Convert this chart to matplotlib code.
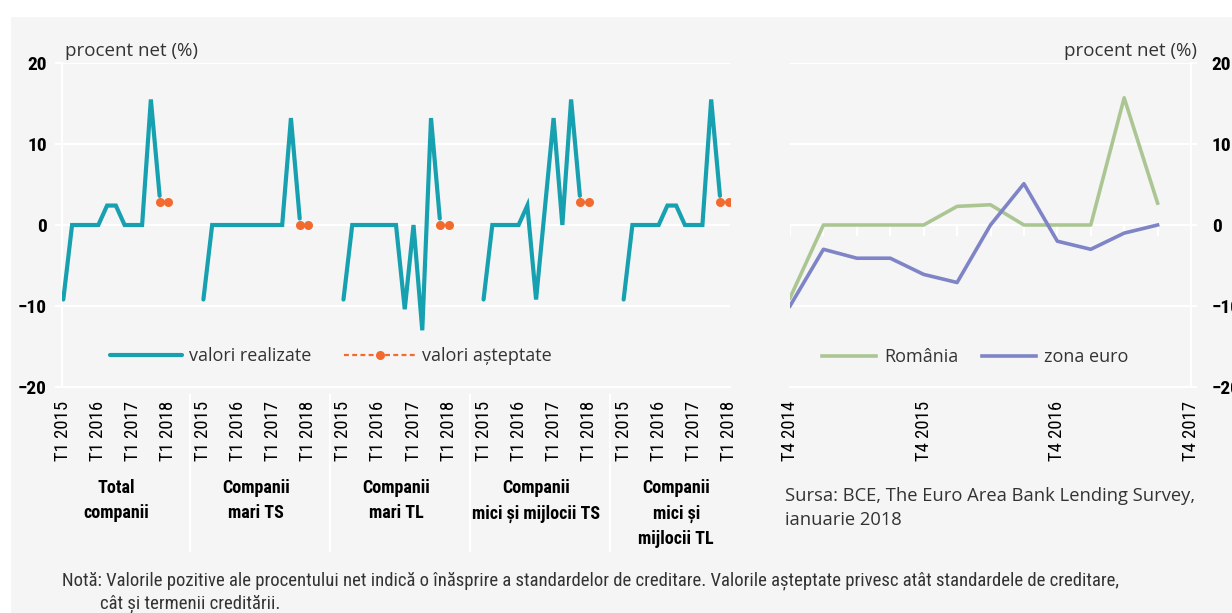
import matplotlib
matplotlib.use("Agg")
import matplotlib.pyplot as plt
import matplotlib.transforms as mtransforms
from matplotlib.lines import Line2D
from matplotlib.patches import Rectangle
from matplotlib import markers
from matplotlib import font_manager as fm

# ---------------- data ----------------
group_labels = ["Total\ncompanii", "Companii\nmari TS", "Companii\nmari TL",
                "Companii\nmici și mijlocii TS", "Companii\nmici și\nmijlocii TL"]
quarter_ticks_left = ["T1 2015", "T1 2016", "T1 2017", "T1 2018"]
realizate_total = [-9.2, 0, 0, 0, 0, 2.4, 2.4, 0, 0, 0, 15.5, 3.6]
realizate_mari_ts = [-9.2, 0, 0, 0, 0, 0, 0, 0, 0, 0, 13.2, 0.8]
realizate_mari_tl = [-9.2, 0, 0, 0, 0, 0, 0, -10.4, 0, -13.0, 13.2, 0.8]
realizate_imm_ts = [-9.2, 0, 0, 0, 0, 2.4, -9.2, 2.0, 13.2, 0, 15.5, 3.6]
realizate_imm_tl = [-9.2, 0, 0, 0, 0, 2.4, 2.4, 0, 0, 0, 15.5, 3.6]
asteptate_total = [2.8, 2.8]
asteptate_mari_ts = [0, 0]
asteptate_mari_tl = [0, 0]
asteptate_imm_ts = [2.8, 2.8]
asteptate_imm_tl = [2.8, 2.8]

quarter_ticks_right = ["T4 2014", "T4 2015", "T4 2016", "T4 2017"]
romania = [-9.0, 0, 0, 0, 0, 2.3, 2.5, 0, 0, 0, 15.7, 2.7]
zona_euro = [-10.0, -3.0, -4.1, -4.1, -6.1, -7.1, 0, 5.1, -2.0, -3.0, -1.0, 0]

realizate = [realizate_total, realizate_mari_ts, realizate_mari_tl, realizate_imm_ts, realizate_imm_tl]
asteptate = [asteptate_total, asteptate_mari_ts, asteptate_mari_tl, asteptate_imm_ts, asteptate_imm_tl]

# ---------------- fonts ----------------
entries = fm.fontManager.ttflist
names = {f.name for f in entries}
COND_STRETCH = "normal"
COND = None
for cand in ["Liberation Sans Narrow", "Arial Narrow", "DejaVu Sans Condensed",
             "Roboto Condensed", "Open Sans Condensed", "Noto Sans Condensed"]:
    if cand in names:
        COND = [cand, "DejaVu Sans"]
        break
if COND is None:
    for f in entries:
        if f.name == "DejaVu Sans" and str(f.stretch) in ("condensed", "semi-condensed", "600", "700", "75"):
            COND = ["DejaVu Sans"]
            COND_STRETCH = "condensed"
            break
if COND is None:
    for f in entries:
        n = f.name.lower()
        if ("narrow" in n or "condensed" in n) and "mono" not in n and "serif" not in n:
            COND = [f.name, "DejaVu Sans"]
            break
NARROW = COND is not None
if not NARROW:
    COND = ["Roboto", "DejaVu Sans"]
SZ_TICK = 13.5 if NARROW else 10.5
SZ_YTICK = 14 if NARROW else 11.5
SZ_GRP = 13 if NARROW else 10.5
SZ_NOTE = 13.5 if NARROW else 9.6

# ---------------- style ----------------
TEAL = "#17a1b0"
ORANGE = "#f26a2e"
GREEN = "#abc693"
PURPLE = "#7e84c6"
BG = "#f5f5f5"
REG = ["Open Sans", "DejaVu Sans"]
TXT = "#333333"

W, H = 1232, 613
fig = plt.figure(figsize=(W / 100, H / 100), dpi=100)
fig.patch.set_facecolor("white")
fig.add_artist(Rectangle((11 / W, 0), 1 - 11 / W, (H - 17) / H, transform=fig.transFigure,
                         facecolor=BG, edgecolor="none", zorder=-10))


def fx(px):
    return px / W


def fy(py):
    return 1 - py / H


def cond_style(t, bold=False):
    t.set_fontfamily(COND)
    t.set_fontstretch(COND_STRETCH)
    if bold:
        t.set_fontweight("bold")


# ---------------- left panel ----------------
axL = fig.add_axes([fx(62), fy(387), fx(730) - fx(62), fy(63) - fy(387)])
axL.set_facecolor("none")
step = 16
for k, (r, a) in enumerate(zip(realizate, asteptate)):
    xs = [k * step + i for i in range(len(r))]
    axL.plot(xs, r, color=TEAL, lw=3.0, solid_capstyle="round", solid_joinstyle="miter",
             label="valori realizate" if k == 0 else None, zorder=3)
    xe = [k * step + 11 + i for i in range(len(a))]
    axL.plot(xe, a, color=ORANGE, lw=1.6, ls=(0, (2.2, 1.5)), marker="o", ms=6.5,
             markeredgewidth=0, label="valori așteptate" if k == 0 else None, zorder=4)

axL.set_xlim(-0.15, 4 * step + 12.15)
axL.set_ylim(-20, 20)
axL.set_yticks([-20, -10, 0, 10, 20])
axL.grid(axis="y", color="white", lw=1.5, zorder=0)
axL.set_axisbelow(True)
for s in ["top", "right"]:
    axL.spines[s].set_visible(False)
for s in ["left", "bottom"]:
    axL.spines[s].set_color("white")
    axL.spines[s].set_linewidth(1.5)
xt = []
xtl = []
for k in range(len(realizate)):
    for j, lab in enumerate(quarter_ticks_left):
        xt.append(k * step + 4 * j)
        xtl.append(lab)
axL.set_xticks(xt)
axL.set_xticklabels(xtl, rotation=90, fontsize=SZ_TICK, color="black")
for t in axL.get_xticklabels():
    cond_style(t)
axL.tick_params(axis="x", length=0, pad=10)
axL.tick_params(axis="y", length=5, color="white", width=1.5, pad=6, labelsize=SZ_YTICK,
                labelcolor="black")
for t in axL.get_yticklabels():
    cond_style(t, bold=True)

trL = mtransforms.blended_transform_factory(axL.transData, axL.transAxes)
for k in range(1, len(realizate)):
    xsep = k * step - 1.5
    axL.add_line(Line2D([xsep, xsep], [-0.025, -0.505], transform=trL, color="white",
                        lw=1.5, clip_on=False))
for k, lab in enumerate(group_labels):
    t = axL.text(k * step + 6, -0.285, lab, transform=trL, ha="center", va="top",
                 fontsize=SZ_GRP, color="black", linespacing=1.5)
    cond_style(t, bold=True)

axL.text(0.004, 1.01, "procent net (%)", transform=axL.transAxes, ha="left", va="bottom",
         fontfamily=REG, fontsize=13.5, color=TXT)

legL = axL.legend(loc="center left", bbox_to_anchor=(0.072, 0.096), ncol=2, frameon=False,
                  handlelength=4.0, handletextpad=0.35, columnspacing=1.8, borderpad=0,
                  borderaxespad=0, numpoints=1, prop={"family": REG, "size": 13})
for t in legL.get_texts():
    t.set_color(TXT)

# ---------------- right panel ----------------
axR = fig.add_axes([fx(790), fy(387), fx(1191) - fx(790), fy(63) - fy(387)])
axR.set_facecolor("none")
qx = list(range(13))
axR.plot(qx, [0] * len(qx), ls="none", marker=markers.TICKDOWN, ms=8, mew=1.5,
         color="white", zorder=1)
axR.plot(range(len(romania)), romania, color=GREEN, lw=2.6, label="România", zorder=3)
axR.plot(range(len(zona_euro)), zona_euro, color=PURPLE, lw=2.6, label="zona euro", zorder=3)
axR.set_xlim(0, 12)
axR.set_ylim(-20, 20)
axR.set_yticks([-20, -10, 0, 10, 20])
axR.grid(axis="y", color="white", lw=1.5, zorder=0)
axR.set_axisbelow(True)
axR.yaxis.tick_right()
for s in ["top", "left"]:
    axR.spines[s].set_visible(False)
for s in ["right", "bottom"]:
    axR.spines[s].set_color("white")
    axR.spines[s].set_linewidth(1.5)
axR.set_xticks([0, 4, 8, 12])
axR.set_xticklabels(quarter_ticks_right, rotation=90, fontsize=SZ_TICK, color="black")
for t in axR.get_xticklabels():
    cond_style(t)
axR.tick_params(axis="x", length=0, pad=10)
axR.tick_params(axis="y", length=4, color="white", width=1.5, pad=11, labelsize=SZ_YTICK,
                labelcolor="black")
for t in axR.get_yticklabels():
    cond_style(t, bold=True)
axR.text(1.015, 1.01, "procent net (%)", transform=axR.transAxes, ha="right", va="bottom",
         fontfamily=REG, fontsize=13.5, color=TXT)
legR = axR.legend(loc="center left", bbox_to_anchor=(0.08, 0.093), ncol=2, frameon=False,
                  handlelength=3.0, handletextpad=0.45, columnspacing=1.3, borderpad=0,
                  borderaxespad=0, prop={"family": REG, "size": 13})
for t in legR.get_texts():
    t.set_color(TXT)

# ---------------- texts ----------------
fig.text(fx(785), fy(508), "Sursa: BCE, The Euro Area Bank Lending Survey,\nianuarie 2018",
         ha="left", va="center", fontfamily=REG, fontsize=13.2, color=TXT, linespacing=1.4)
n1 = fig.text(fx(62), fy(581), "Notă: Valorile pozitive ale procentului net indică o înăsprire a "
              "standardelor de creditare. Valorile așteptate privesc atât standardele de creditare,",
              ha="left", va="center", fontsize=SZ_NOTE, color=TXT)
n2 = fig.text(fx(100), fy(604), "cât și termenii creditării.", ha="left", va="center",
              fontsize=SZ_NOTE, color=TXT)
cond_style(n1)
cond_style(n2)

fig.savefig("out.png", dpi=100, facecolor=fig.get_facecolor())
